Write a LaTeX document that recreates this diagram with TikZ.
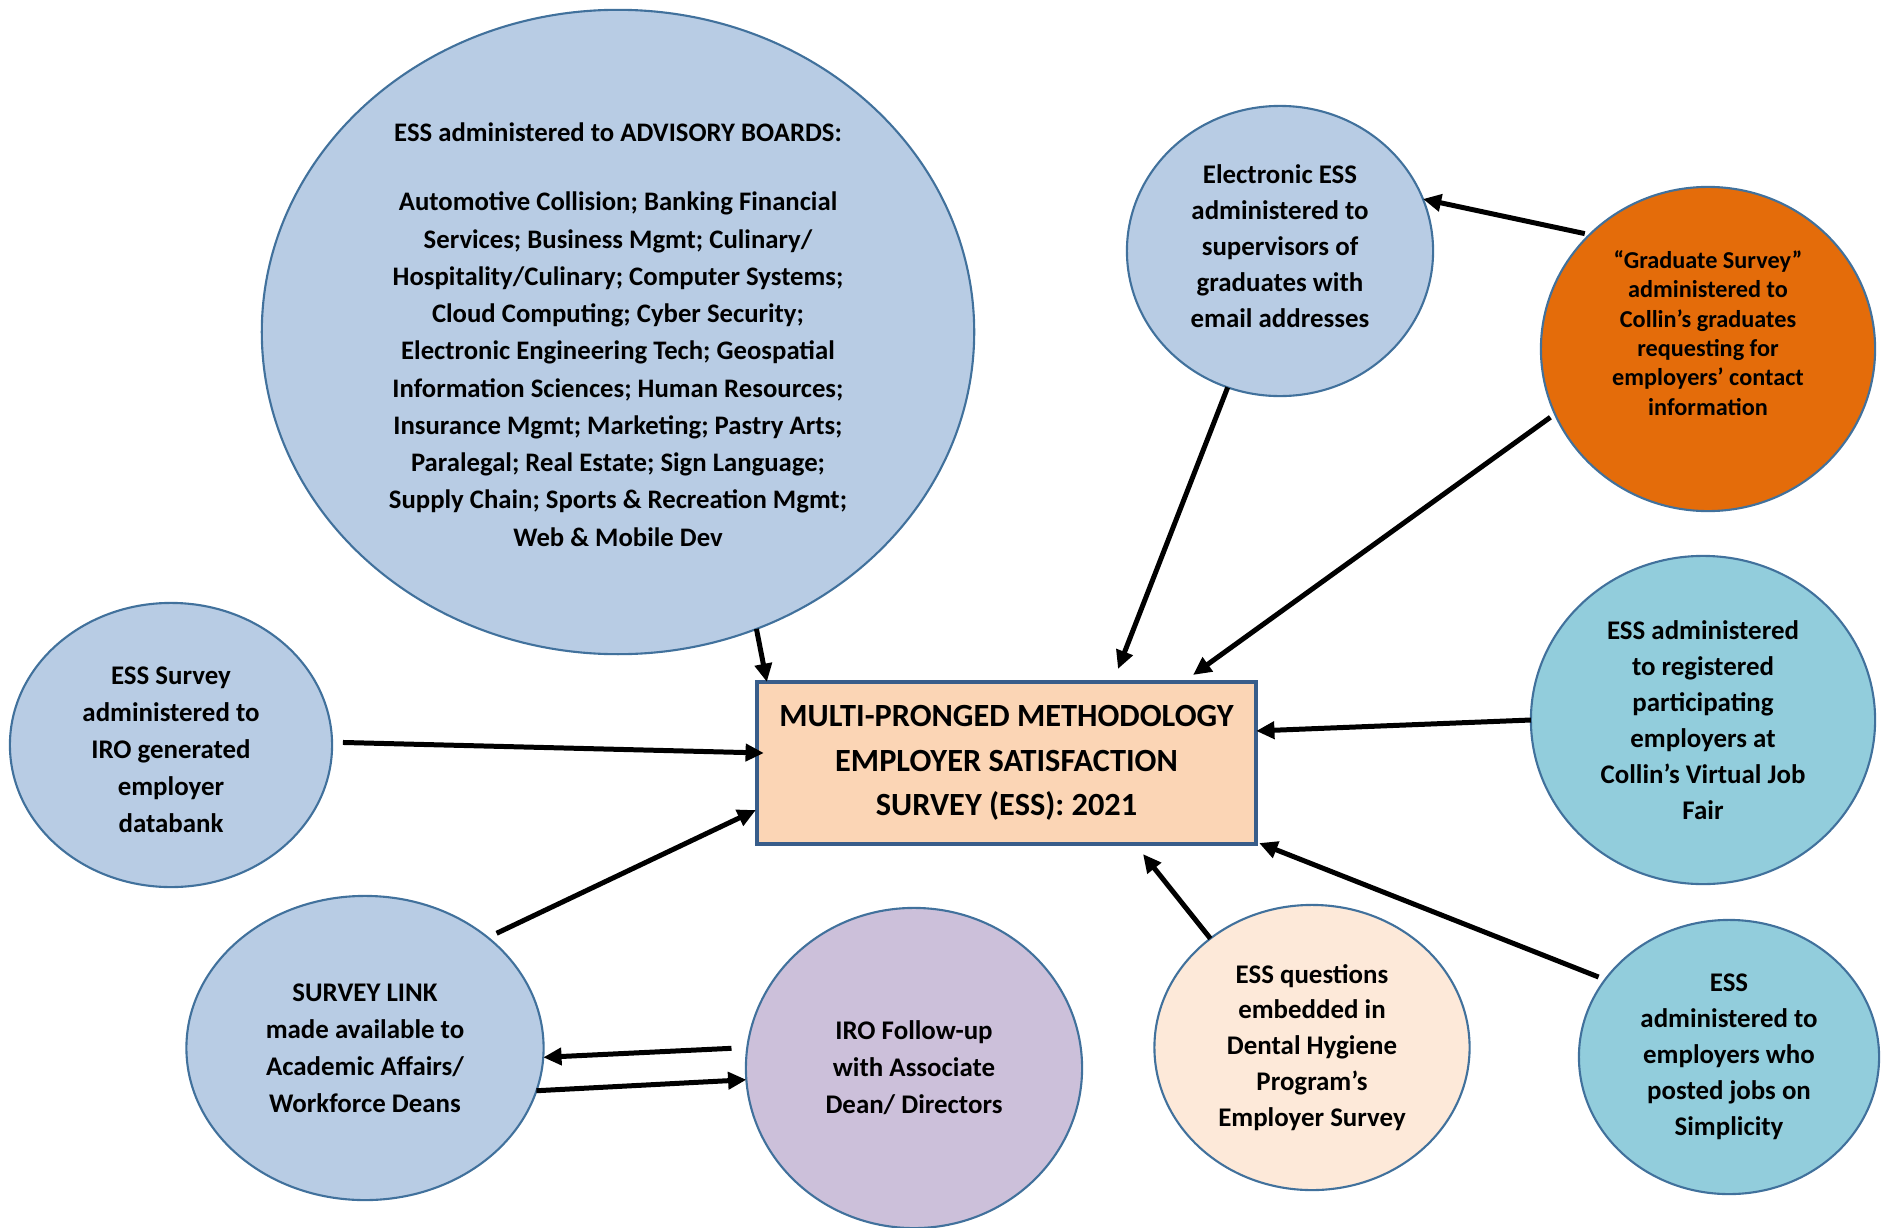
\documentclass[tikz,border=0pt]{standalone}
\usepackage{fontspec}
\setmainfont{Carlito}
\usetikzlibrary{shapes.geometric,arrows.meta,calc}
\definecolor{lblue}{HTML}{B8CCE4}
\definecolor{teal2}{HTML}{92CDDC}
\definecolor{orng}{HTML}{E46C0A}
\definecolor{purp}{HTML}{CCC0DA}
\definecolor{peach}{HTML}{FDE9D9}
\definecolor{boxfill}{HTML}{FBD5B5}
\definecolor{ringc}{HTML}{41719C}
\definecolor{boxline}{HTML}{385D8A}
\newcommand{\shiftdown}[2]{\raisebox{-#1}[\height][\depth]{\begin{tabular}{@{}c@{}}#2\end{tabular}}}
\tikzset{
  bubble/.style={ellipse, draw=ringc, line width=0.6pt, inner sep=0pt, outer sep=0pt,
    align=center, font=\fontsize{7.65}{10.2}\selectfont\bfseries},
  widebubble/.style={bubble, font=\fontsize{7.65}{10.5}\selectfont\bfseries},
  mainbox/.style={rectangle, draw=boxline, line width=1.15pt, fill=boxfill, inner sep=0pt, outer sep=0pt,
    align=center, minimum width=4.99cm, minimum height=1.62cm, font=\fontsize{9.2}{12.66}\selectfont\bfseries},
  conn/.style={line width=1.42pt, -{Triangle[length=5.2pt,width=4.8pt]}}
}
\begin{document}
\begin{tikzpicture}[x=0.01cm,y=-0.01cm]
\useasboundingbox (0,0) rectangle (1885,1227);
\begin{scope}
\clip (0,0) rectangle (1885,1227);
\node[bubble, fill=lblue, minimum width=7.12cm, minimum height=6.44cm, font=\fontsize{7.6}{10.6}\selectfont\bfseries] (adv) at (618,332)
 {\shiftdown{1.2pt}{ESS administered to ADVISORY BOARDS:\\[9.2pt]
  Automotive Collision; Banking Financial\\
  Services; Business Mgmt; Culinary/\\
  Hospitality/Culinary; Computer Systems;\\
  Cloud Computing; Cyber Security;\\
  Electronic Engineering Tech; Geospatial\\
  Information Sciences; Human Resources;\\
  Insurance Mgmt; Marketing; Pastry Arts;\\
  Paralegal; Real Estate; Sign Language;\\
  Supply Chain; Sports \& Recreation Mgmt;\\
  Web \& Mobile Dev}};
\node[bubble, fill=lblue, minimum width=3.06cm, minimum height=2.90cm] (elec) at (1280,251)
 {\shiftdown{-0.8pt}{Electronic ESS\\administered to\\supervisors of\\graduates with\\email addresses}};
\node[bubble, fill=orng, minimum width=3.34cm, minimum height=3.24cm] (grad) at (1708,349) {};
\node[align=center, inner sep=0pt, font=\fontsize{6.9}{8.35}\selectfont\bfseries] (gradtext) at ($(grad)+(0,-16)$)
 {“Graduate Survey”\\administered to\\Collin’s graduates\\requesting for\\employers’ contact\\information};
\node[widebubble, fill=lblue, minimum width=3.22cm, minimum height=2.84cm] (essl) at (171,745)
 {\shiftdown{1.7pt}{ESS Survey\\administered to\\IRO generated\\employer\\databank}};
\node[mainbox] (box) at (1006.5,763)
 {MULTI-PRONGED METHODOLOGY\\EMPLOYER SATISFACTION\\SURVEY (ESS): 2021};
\node[bubble, fill=teal2, minimum width=3.44cm, minimum height=3.28cm] (reg) at (1703,720)
 {ESS administered\\to registered\\participating\\employers at\\Collin’s Virtual Job\\Fair};
\node[widebubble, fill=lblue, minimum width=3.57cm, minimum height=3.04cm] (link) at (365,1048)
 {SURVEY LINK\\made available to\\Academic Affairs/\\Workforce Deans};
\node[widebubble, fill=purp, minimum width=3.36cm, minimum height=3.20cm] (iro) at (914,1068)
 {IRO Follow-up\\with Associate\\Dean/ Directors};
\node[bubble, fill=peach, minimum width=3.15cm, minimum height=2.85cm] (dent) at (1312,1047.5)
 {ESS questions\\embedded in\\Dental Hygiene\\Program’s\\Employer Survey};
\node[bubble, fill=teal2, minimum width=3.00cm, minimum height=2.74cm] (simp) at (1729,1057)
 {ESS\\administered to\\employers who\\posted jobs on\\Simplicity};
\end{scope}
% connectors
\draw[conn] (adv.-65.6) -- ($(box.north west)+(10,0)$);
\draw[conn] (elec.-111.5) -- ($(box.north)+(111.5,-13)$);
\draw[conn, shorten <=1.4pt] (grad.136.4) -- (elec.20.5);
\draw[conn, shorten <=1.6pt] (grad.203.3) -- ($(box.north)+(186.5,-7)$);
\draw[conn] (reg.180) -- ($(box.north east)+(0,49)$);
\draw[conn, shorten <=2pt] (simp.148.1) -- ($(box.south east)+(3,-1)$);
\draw[conn] (dent.133.25) -- ($(box.south)+(136.5,10)$);
\draw[conn, shorten <=3.1pt] (essl.1) -- ($(box.west)+(7,-10)$);
\draw[conn, shorten <=2.8pt] (link.42.9) -- ($(box.south west)+(-1,-34)$);
\draw[conn, shorten <=4.5pt] (iro.173.8) -- (link.-3.2);
\draw[conn] (link.-14.7) -- (iro.184.8);
\end{tikzpicture}
\end{document}
